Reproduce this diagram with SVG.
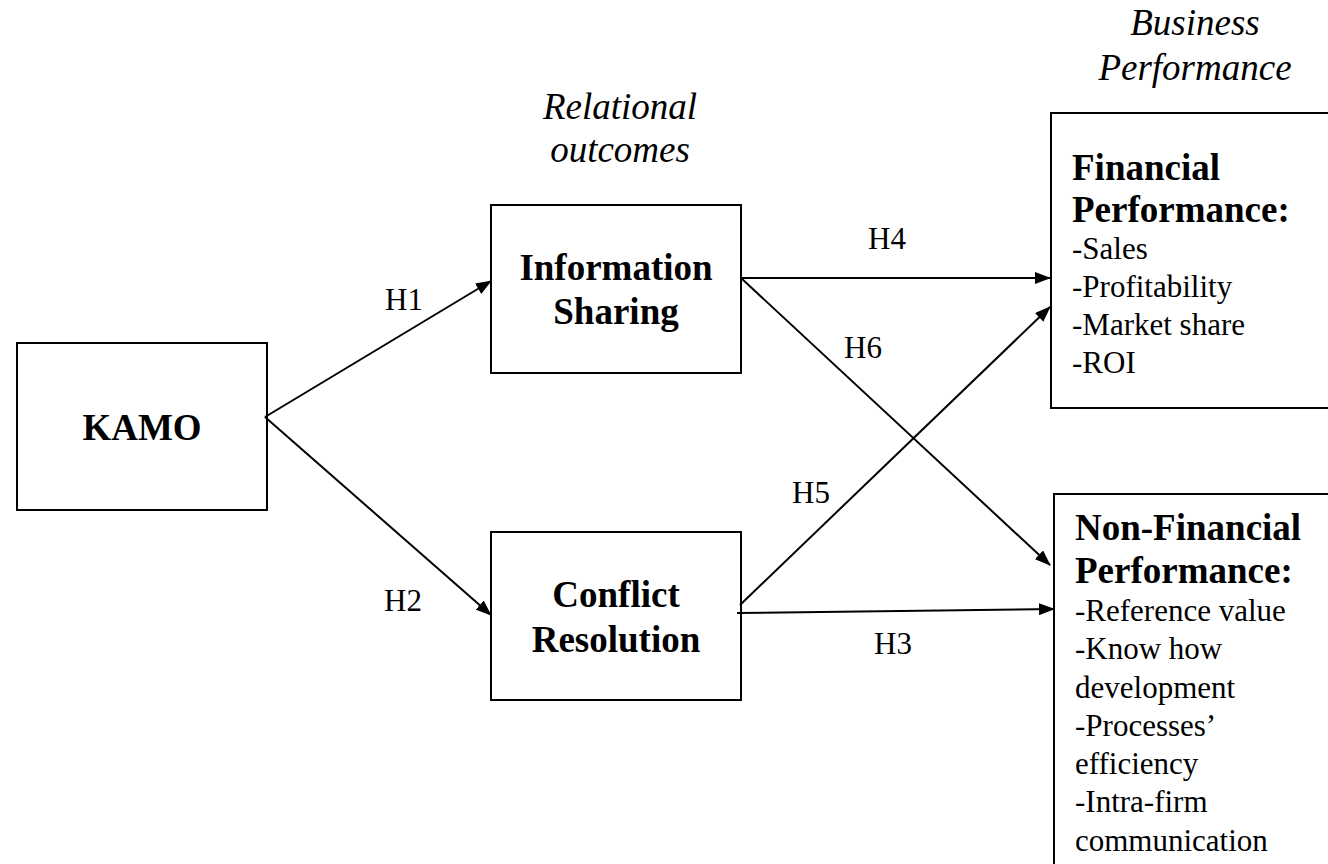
<svg xmlns="http://www.w3.org/2000/svg" width="1328" height="864" viewBox="0 0 1328 864">
<style>
.box{fill:#fff;stroke:#000;stroke-width:2}
.b{font-family:"Liberation Serif","Times New Roman",serif;font-weight:bold;font-size:37px;fill:#000}
.r{font-family:"Liberation Serif","Times New Roman",serif;font-size:31px;fill:#000}
.i{font-family:"Liberation Serif","Times New Roman",serif;font-style:italic;font-size:37px;fill:#000}
.c{text-anchor:middle}
.ln{stroke:#000;stroke-width:2;fill:none;marker-end:url(#ah)}
</style>
<defs>
<marker id="ah" viewBox="0 0 16 12" refX="15" refY="6" markerWidth="16" markerHeight="12" markerUnits="userSpaceOnUse" orient="auto">
<path d="M0,0 L16,6 L0,12 z" fill="#000"/>
</marker>
</defs>
<rect width="1328" height="864" fill="#fff"/>
<g id="headings">
<text class="i c" x="620" y="119">Relational</text>
<text class="i c" x="620" y="162">outcomes</text>
<text class="i c" x="1195" y="35">Business</text>
<text class="i c" x="1195" y="80">Performance</text>
</g>
<g id="kamo">
<rect class="box" x="17" y="343" width="250" height="167"/>
<text class="b c" x="142" y="440">KAMO</text>
</g>
<g id="info">
<rect class="box" x="491" y="205" width="250" height="168"/>
<text class="b c" x="616" y="280">Information</text>
<text class="b c" x="616" y="324">Sharing</text>
</g>
<g id="conflict">
<rect class="box" x="491" y="532" width="250" height="168"/>
<text class="b c" x="616" y="607">Conflict</text>
<text class="b c" x="616" y="652">Resolution</text>
</g>
<g id="financial">
<rect class="box" x="1051" y="113" width="300" height="295"/>
<text class="b" x="1072" y="180">Financial</text>
<text class="b" x="1072" y="222">Performance:</text>
<text class="r" x="1072" y="259">-Sales</text>
<text class="r" x="1072" y="297">-Profitability</text>
<text class="r" x="1072" y="335">-Market share</text>
<text class="r" x="1072" y="373">-ROI</text>
</g>
<g id="nonfinancial">
<rect class="box" x="1054" y="494" width="300" height="400"/>
<text class="b" x="1075" y="540">Non-Financial</text>
<text class="b" x="1075" y="583">Performance:</text>
<text class="r" x="1075" y="621">-Reference value</text>
<text class="r" x="1075" y="659">-Know how</text>
<text class="r" x="1075" y="698">development</text>
<text class="r" x="1075" y="736">-Processes’</text>
<text class="r" x="1075" y="774">efficiency</text>
<text class="r" x="1075" y="812">-Intra-firm</text>
<text class="r" x="1075" y="851">communication</text>
</g>
<g id="connectors">
<line class="ln" x1="265" y1="417" x2="491" y2="281"/>
<line class="ln" x1="265" y1="417" x2="491" y2="615"/>
<line class="ln" x1="741" y1="278" x2="1050" y2="278"/>
<line class="ln" x1="741" y1="278" x2="1050" y2="565"/>
<line class="ln" x1="740" y1="605" x2="1050" y2="307"/>
<line class="ln" x1="737" y1="613" x2="1054" y2="609"/>
<text class="r c" x="404" y="310">H1</text>
<text class="r c" x="403" y="611">H2</text>
<text class="r c" x="887" y="249">H4</text>
<text class="r" x="844" y="358">H6</text>
<text class="r" x="792" y="503">H5</text>
<text class="r c" x="893" y="654">H3</text>
</g>
</svg>
